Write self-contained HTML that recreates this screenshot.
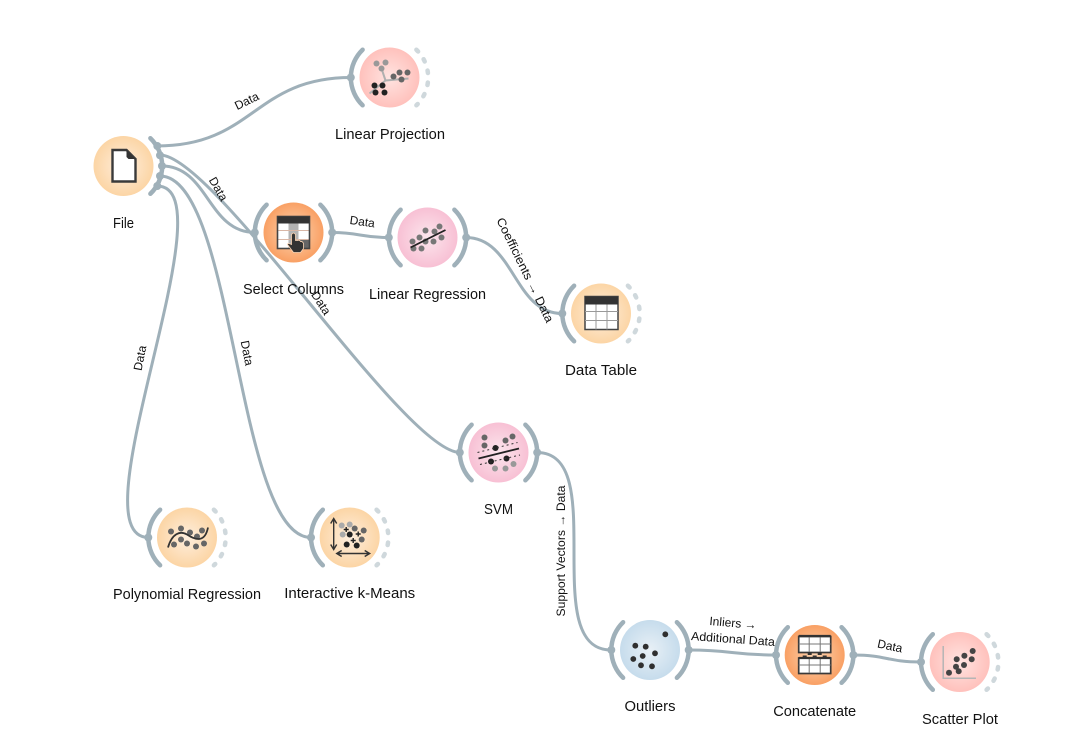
<!DOCTYPE html>
<html><head><meta charset="utf-8"><style>
html,body{margin:0;padding:0;background:#fff;overflow:hidden}
svg{display:block}
text{font-family:"Liberation Sans",sans-serif;fill:#111}
.n{font-size:15px;text-anchor:middle}
.l{font-size:12px;text-anchor:middle}
.e{fill:none;stroke:#9fb0b9;stroke-width:3}
.a{fill:none;stroke:#9fb0b9;stroke-width:4.500;stroke-linecap:round}
.d{fill:none;stroke:#cfd8dc;stroke-width:4.500;stroke-linecap:round;stroke-dasharray:2.500 9.500}
.p{fill:#9fb0b9}
</style></head><body>
<svg width="1088" height="753" viewBox="0 0 1088 753" xmlns="http://www.w3.org/2000/svg">
<defs>
<radialGradient id="o"><stop offset="0" stop-color="#feeedd"/><stop offset="1" stop-color="#fcd5a5"/></radialGradient>
<radialGradient id="r"><stop offset="0" stop-color="#ffe4e1"/><stop offset="1" stop-color="#ffc1bc"/></radialGradient>
<radialGradient id="k"><stop offset="0" stop-color="#fbe6ed"/><stop offset="1" stop-color="#f8c0d4"/></radialGradient>
<radialGradient id="s"><stop offset="0" stop-color="#fdd5b2"/><stop offset="1" stop-color="#f9a064"/></radialGradient>
<radialGradient id="b"><stop offset="0" stop-color="#e8f0f6"/><stop offset="1" stop-color="#c6dcec"/></radialGradient>
</defs>

<g class="edges">
<path class="e" d="M157,146 C254,146 254,77.500 351,77.500"/>
<path class="e" d="M162,166 C208,166 208,232.500 255,232.500"/>
<path class="e" d="M160,155 C215,155 405,452.500 460,452.500"/>
<path class="e" d="M160,176 C235,176 236,537.500 311,537.500"/>
<path class="e" d="M157,186 C232,186 73,537.500 148.500,537.500"/>
<path class="e" d="M332,232.500 C360,232.500 360,237.500 388.500,237.500"/>
<path class="e" d="M466,237.500 C514,237.500 514,313.500 562,313.500"/>
<path class="e" d="M537,452.500 C611,452.500 537,650 611,650"/>
<path class="e" d="M689,650 C732,650 732,655 776,655"/>
<path class="e" d="M853.500,655 C887,655 887,662 921,662"/>
</g>

<!-- File -->
<g transform="translate(123.500,166)">
<circle r="30" fill="url(#o)"/>
<path class="a" d="M26.900,-27.800 A38.700,38.700 0 0 1 26.900,27.800"/>
<circle class="p" cx="33.800" cy="-20" r="4"/><circle class="p" cx="36.500" cy="-10.700" r="4"/><circle class="p" cx="38.500" cy="0" r="4"/><circle class="p" cx="36.500" cy="10" r="4"/><circle class="p" cx="33.800" cy="20" r="4"/>
<path d="M-11,-16 H3 L12,-7 V15.500 H-11 Z" fill="#fff" stroke="#3a3a3a" stroke-width="2.400"/>
<path d="M3,-16 L12,-7 H5 L3,-9 Z" fill="#333"/>
</g>

<!-- Linear Projection -->
<g transform="translate(389.500,77.500)">
<circle r="30" fill="url(#r)"/>
<path class="a" d="M-26.900,-27.800 A38.700,38.700 0 0 0 -26.900,27.800"/>
<path class="d" d="M26.900,-27.800 A38.700,38.700 0 0 1 26.900,27.800"/>
<circle class="p" cx="-38.700" r="4"/>
<path d="M-20,16 L-4,3 L19,1 M-4,3 L-8,-9" fill="none" stroke="#b0b0b0" stroke-width="2"/>
<g fill="#999"><circle cx="-13" cy="-14" r="3"/><circle cx="-4" cy="-15" r="3"/><circle cx="-8" cy="-9" r="3"/></g>
<g fill="#666"><circle cx="4" cy="-1" r="3"/><circle cx="10" cy="-5" r="3"/><circle cx="18" cy="-5" r="3"/><circle cx="12" cy="2" r="3"/></g>
<g fill="#222"><circle cx="-15" cy="8" r="3"/><circle cx="-7" cy="8" r="3"/><circle cx="-14" cy="15" r="3"/><circle cx="-5" cy="15" r="3"/></g>
</g>

<!-- Select Columns -->
<g transform="translate(293.500,232.500)">
<circle r="30" fill="url(#s)"/>
<path class="a" d="M-26.900,-27.800 A38.700,38.700 0 0 0 -26.900,27.800"/>
<path class="a" d="M26.900,-27.800 A38.700,38.700 0 0 1 26.900,27.800"/>
<circle class="p" cx="-38.700" r="4"/><circle class="p" cx="38.700" r="4"/>
<rect x="-16" y="-16" width="32" height="32" fill="#fff"/>
<rect x="-5" y="-9" width="10" height="25" fill="#b3b3b3"/>
<rect x="5" y="7" width="11" height="9" fill="#666"/>
<path d="M-16,-2 H16 M-16,7 H16" stroke="#d9b7a6" stroke-width="1"/>
<rect x="-16" y="-16" width="32" height="32" fill="none" stroke="#444" stroke-width="1.600"/>
<rect x="-16" y="-16" width="32" height="7" fill="#333"/>
<path d="M-2,12 V2 Q0,-1 2,2 V8 L4,8 Q6,7 7,9 Q9,8.500 10,11 V16 L7,20 H0 L-6,12 Q-6,10 -2,12 Z" fill="#333" stroke="#fbd5b5" stroke-width="0.800"/>
</g>

<!-- Linear Regression -->
<g transform="translate(427.500,237.500)">
<circle r="30" fill="url(#k)"/>
<path class="a" d="M-26.900,-27.800 A38.700,38.700 0 0 0 -26.900,27.800"/>
<path class="a" d="M26.900,-27.800 A38.700,38.700 0 0 1 26.900,27.800"/>
<circle class="p" cx="-38.700" r="4"/><circle class="p" cx="38.700" r="4"/>
<g fill="#777"><circle cx="-15" cy="4" r="3"/><circle cx="-8" cy="0" r="3"/><circle cx="-2" cy="-7" r="3"/><circle cx="7" cy="-6" r="3"/><circle cx="12" cy="-11" r="3"/><circle cx="-2" cy="4" r="3"/><circle cx="6" cy="4" r="3"/><circle cx="14" cy="0" r="3"/><circle cx="-6" cy="11" r="3"/><circle cx="-14" cy="11" r="3"/></g>
<path d="M-17,10 L18,-7.500" stroke="#222" stroke-width="1.800"/>
</g>

<!-- Data Table -->
<g transform="translate(601,313.500)">
<circle r="30" fill="url(#o)"/>
<path class="a" d="M-26.900,-27.800 A38.700,38.700 0 0 0 -26.900,27.800"/>
<path class="d" d="M26.900,-27.800 A38.700,38.700 0 0 1 26.900,27.800"/>
<circle class="p" cx="-38.700" r="4"/>
<rect x="-16" y="-17" width="33" height="33" fill="#fff" stroke="#444" stroke-width="1.500"/>
<rect x="-16" y="-17" width="33" height="8" fill="#333"/>
<path d="M-16,-2 H17 M-16,7 H17 M-5,-9 V16 M6,-9 V16" stroke="#999" stroke-width="1"/>
</g>

<!-- Polynomial Regression -->
<g transform="translate(187,537.500)">
<circle r="30" fill="url(#o)"/>
<path class="a" d="M-26.900,-27.800 A38.700,38.700 0 0 0 -26.900,27.800"/>
<path class="d" d="M26.900,-27.800 A38.700,38.700 0 0 1 26.900,27.800"/>
<circle class="p" cx="-38.700" r="4"/>
<g fill="#666"><circle cx="-16" cy="-6" r="3"/><circle cx="-6" cy="-9" r="3"/><circle cx="3" cy="-5" r="3"/><circle cx="10" cy="-1" r="3"/><circle cx="15" cy="-7" r="3"/><circle cx="-13" cy="7" r="3"/><circle cx="-6" cy="2" r="3"/><circle cx="0" cy="6" r="3"/><circle cx="9" cy="9" r="3"/><circle cx="17" cy="6" r="3"/></g>
<path d="M-19,10 C-15,-4 -7,-7 0,-3 C9,3 18,5 21,-10" fill="none" stroke="#333" stroke-width="1.800"/>
</g>

<!-- Interactive k-Means -->
<g transform="translate(349.700,537.500)">
<circle r="30" fill="url(#o)"/>
<path class="a" d="M-26.900,-27.800 A38.700,38.700 0 0 0 -26.900,27.800"/>
<path class="d" d="M26.900,-27.800 A38.700,38.700 0 0 1 26.900,27.800"/>
<circle class="p" cx="-38.700" r="4"/>
<path d="M-16,-18 V11 M-19,-14 L-16,-19 L-13,-14 M-19,7 L-16,12 L-13,7 M-12,16 H19 M-8,13 L-13,16 L-8,19 M15,13 L20,16 L15,19" fill="none" stroke="#333" stroke-width="1.400"/>
<g fill="#aaa"><circle cx="-8" cy="-12" r="3"/><circle cx="0" cy="-13" r="3"/><circle cx="-7" cy="-3" r="3"/></g>
<g fill="#666"><circle cx="5" cy="-9" r="3"/><circle cx="14" cy="-7" r="3"/><circle cx="12" cy="2" r="3"/></g>
<g fill="#222"><circle cx="0" cy="-3" r="3"/><circle cx="-3" cy="7" r="3"/><circle cx="7" cy="8" r="3"/></g>
<path d="M-6,-8 H-1 M-3.500,-10.500 V-5.500 M6,-3.500 H11 M8.500,-6 V-1 M1,3 H6 M3.500,0.500 V5.500" stroke="#222" stroke-width="1.400"/>
</g>

<!-- SVM -->
<g transform="translate(498.500,452.500)">
<circle r="30" fill="url(#k)"/>
<path class="a" d="M-26.900,-27.800 A38.700,38.700 0 0 0 -26.900,27.800"/>
<path class="a" d="M26.900,-27.800 A38.700,38.700 0 0 1 26.900,27.800"/>
<circle class="p" cx="-38.700" r="4"/><circle class="p" cx="38.700" r="4"/>
<g fill="#666"><circle cx="-14" cy="-15" r="3"/><circle cx="-14" cy="-7" r="3"/><circle cx="7" cy="-12" r="3"/><circle cx="14" cy="-16" r="3"/></g>
<g fill="#222"><circle cx="-3" cy="-4.500" r="3"/><circle cx="-7.500" cy="9" r="3"/><circle cx="8" cy="6" r="3"/></g>
<g fill="#999"><circle cx="-3.500" cy="16" r="3"/><circle cx="7" cy="16" r="3"/><circle cx="15" cy="11.500" r="3"/></g>
<path d="M-20,6 L20.500,-4" stroke="#222" stroke-width="1.800"/>
<path d="M-21,0 L19,-10 M-18.500,12 L21.500,2.500" stroke="#333" stroke-width="1" stroke-dasharray="2 3" fill="none"/>
</g>

<!-- Outliers -->
<g transform="translate(650,650)">
<circle r="30" fill="url(#b)"/>
<path class="a" d="M-26.900,-27.800 A38.700,38.700 0 0 0 -26.900,27.800"/>
<path class="a" d="M26.900,-27.800 A38.700,38.700 0 0 1 26.900,27.800"/>
<circle class="p" cx="-38.700" r="4"/><circle class="p" cx="38.700" r="4"/>
<g fill="#2f2f2f"><circle cx="15.300" cy="-15.700" r="2.900"/><circle cx="-14.700" cy="-4.300" r="2.900"/><circle cx="-4.300" cy="-3.300" r="2.900"/><circle cx="-7.300" cy="6" r="2.900"/><circle cx="5" cy="3.300" r="2.900"/><circle cx="-16.700" cy="9" r="2.900"/><circle cx="-9" cy="15.300" r="2.900"/><circle cx="2" cy="16.300" r="2.900"/></g>
</g>

<!-- Concatenate -->
<g transform="translate(814.700,655)">
<circle r="30" fill="url(#s)"/>
<path class="a" d="M-26.900,-27.800 A38.700,38.700 0 0 0 -26.900,27.800"/>
<path class="a" d="M26.900,-27.800 A38.700,38.700 0 0 1 26.900,27.800"/>
<circle class="p" cx="-38.700" r="4"/><circle class="p" cx="38.700" r="4"/>
<g fill="#fff" stroke="#3a3a3a" stroke-width="1.700">
<rect x="-16" y="-18.500" width="32" height="16"/>
<rect x="-16" y="3" width="32" height="15.500"/></g>
<path d="M-5.500,-18 V-3 M5.500,-18 V-3 M-16,-11 H16 M-5.500,3 V18 M5.500,3 V18 M-16,10 H16" stroke="#777" stroke-width="1"/>
<path d="M-16,-19 H16 M-16,3 H16" stroke="#333" stroke-width="2.200"/>
<g fill="#333"><rect x="-7" y="-3" width="4" height="3"/><rect x="3" y="-3" width="4" height="3"/><rect x="-12" y="0.500" width="4" height="2.500"/><rect x="-2" y="0.500" width="4" height="2.500"/><rect x="8" y="0.500" width="4" height="2.500"/></g>
</g>

<!-- Scatter Plot -->
<g transform="translate(959.700,662)">
<circle r="30" fill="url(#r)"/>
<path class="a" d="M-26.900,-27.800 A38.700,38.700 0 0 0 -26.900,27.800"/>
<path class="d" d="M26.900,-27.800 A38.700,38.700 0 0 1 26.900,27.800"/>
<circle class="p" cx="-38.700" r="4"/>
<path d="M-16.500,-16 V16.300 H16.300" fill="none" stroke="#b5b5b5" stroke-width="1.500"/>
<g fill="#444"><circle cx="13" cy="-11" r="3"/><circle cx="4.700" cy="-6.300" r="3"/><circle cx="-3" cy="-2.700" r="3"/><circle cx="12" cy="-2.700" r="3"/><circle cx="4.300" cy="3" r="3"/><circle cx="-3.700" cy="4.700" r="3"/><circle cx="-10.700" cy="10.700" r="3"/><circle cx="-1" cy="9.300" r="3"/></g>
</g>

<!-- node labels -->
<text class="n" x="123.500" y="228" textLength="21" lengthAdjust="spacingAndGlyphs">File</text>
<text class="n" x="390" y="139" textLength="110" lengthAdjust="spacingAndGlyphs">Linear Projection</text>
<text class="n" x="293.500" y="294" textLength="101" lengthAdjust="spacingAndGlyphs">Select Columns</text>
<text class="n" x="427.500" y="299" textLength="117" lengthAdjust="spacingAndGlyphs">Linear Regression</text>
<text class="n" x="601" y="375" textLength="72" lengthAdjust="spacingAndGlyphs">Data Table</text>
<text class="n" x="498.500" y="514" textLength="29" lengthAdjust="spacingAndGlyphs">SVM</text>
<text class="n" x="187" y="599" textLength="148" lengthAdjust="spacingAndGlyphs">Polynomial Regression</text>
<text class="n" x="349.700" y="598" textLength="131" lengthAdjust="spacingAndGlyphs">Interactive k-Means</text>
<text class="n" x="650" y="711" textLength="51" lengthAdjust="spacingAndGlyphs">Outliers</text>
<text class="n" x="814.700" y="716" textLength="83" lengthAdjust="spacingAndGlyphs">Concatenate</text>
<text class="n" x="960" y="724" textLength="76" lengthAdjust="spacingAndGlyphs">Scatter Plot</text>

<!-- link labels -->
<text class="l" transform="translate(246.700,101) rotate(-26)" y="4">Data</text>
<text class="l" transform="translate(218.300,189) rotate(60)" y="4">Data</text>
<text class="l" transform="translate(321,303) rotate(57)" y="4">Data</text>
<text class="l" transform="translate(247,353) rotate(79)" y="4">Data</text>
<text class="l" transform="translate(140,358) rotate(-79)" y="4">Data</text>
<text class="l" transform="translate(362.300,221.700) rotate(8)" y="4">Data</text>
<text class="l" transform="translate(525,270) rotate(64)" y="4" textLength="115" lengthAdjust="spacingAndGlyphs">Coefficients → Data</text>
<text class="l" transform="translate(561,551) rotate(-90)" y="4" textLength="131" lengthAdjust="spacingAndGlyphs">Support Vectors → Data</text>
<text class="l" transform="translate(733,623) rotate(5)" y="4">Inliers →</text>
<text class="l" transform="translate(733,639) rotate(4)" y="4" textLength="84" lengthAdjust="spacingAndGlyphs">Additional Data</text>
<text class="l" transform="translate(890,646) rotate(12)" y="4">Data</text>
</svg>
</body></html>
